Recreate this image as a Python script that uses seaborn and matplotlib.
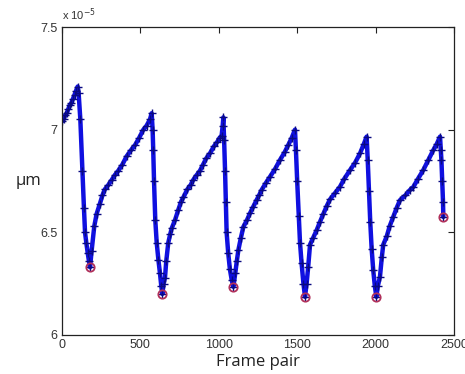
import numpy as np
import pandas as pd
import seaborn as sns
import matplotlib.pyplot as plt

# Displacement trace (values in units of 1e-5 um)
frames = [0, 10, 20, 30, 40, 50, 60, 70, 80, 90, 100,
          106, 117, 130, 140, 147, 155, 164, 172, 179,
          189, 206, 221, 242, 258, 274, 295, 317, 338, 359, 385, 412, 440,
          466, 492, 519, 540, 561, 572,
          578, 582, 587, 595, 604, 615, 625, 633, 640,
          648, 657, 665, 678, 690, 700, 721, 742, 760, 774, 800, 820, 837,
          860, 880, 900, 920, 944, 970, 990, 1005, 1018, 1025, 1029,
          1034, 1040, 1045, 1050, 1060, 1071, 1082, 1093,
          1105, 1115, 1125, 1140, 1157, 1180, 1199, 1220, 1241, 1257, 1273,
          1300, 1327, 1360, 1390, 1420, 1443, 1465, 1486,
          1492, 1500, 1510, 1518, 1528, 1540, 1550,
          1560, 1570, 1582, 1600, 1624, 1645, 1667, 1690, 1709, 1740, 1773,
          1800, 1837, 1870, 1901, 1925, 1943,
          1950, 1958, 1966, 1975, 1985, 1995, 2005,
          2015, 2028, 2040, 2049, 2071, 2090, 2113, 2135, 2156, 2190, 2219,
          2240, 2270, 2304, 2335, 2368, 2390, 2411,
          2416, 2420, 2425, 2430, 2432]
values = [7.04, 7.05, 7.07, 7.08, 7.10, 7.12, 7.13, 7.15, 7.17, 7.19, 7.21,
          7.18, 7.05, 6.80, 6.62, 6.50, 6.45, 6.40, 6.36, 6.33,
          6.41, 6.53, 6.59, 6.64, 6.68, 6.71, 6.73, 6.755, 6.78, 6.80, 6.83, 6.87, 6.90,
          6.925, 6.96, 7.00, 7.02, 7.05, 7.08,
          7.00, 6.90, 6.75, 6.56, 6.45, 6.365, 6.30, 6.24, 6.20,
          6.25, 6.28, 6.36, 6.45, 6.49, 6.52, 6.56, 6.61, 6.65, 6.67, 6.71, 6.73, 6.755,
          6.78, 6.80, 6.83, 6.86, 6.885, 6.92, 6.94, 6.96, 6.97, 7.02, 7.06,
          6.95, 6.80, 6.65, 6.50, 6.40, 6.32, 6.27, 6.235,
          6.30, 6.36, 6.414, 6.47, 6.527, 6.56, 6.593, 6.625, 6.657, 6.68, 6.706,
          6.74, 6.771, 6.81, 6.852, 6.89, 6.925, 6.96, 7.00,
          6.90, 6.75, 6.58, 6.45, 6.35, 6.25, 6.186,
          6.25, 6.33, 6.44, 6.47, 6.51, 6.55, 6.59, 6.63, 6.66, 6.69, 6.722,
          6.76, 6.803, 6.84, 6.885, 6.93, 6.966,
          6.85, 6.70, 6.55, 6.42, 6.316, 6.24, 6.186,
          6.24, 6.284, 6.38, 6.44, 6.48, 6.53, 6.576, 6.62, 6.657, 6.68, 6.706,
          6.72, 6.76, 6.803, 6.85, 6.90, 6.93, 6.966,
          6.90, 6.85, 6.75, 6.65, 6.575]

# Marked minima
min_frames = [179, 640, 1093, 1550, 2005, 2432]
min_values = [6.33, 6.20, 6.235, 6.186, 6.186, 6.575]

df = pd.DataFrame({"Frame pair": frames, "um": values})

sns.set_style("white")
plt.rcParams["font.family"] = ["Liberation Sans", "DejaVu Sans"]

fig = plt.figure(figsize=(4.65, 3.74), dpi=100)
ax = fig.add_axes([0.1333, 0.1043, 0.843, 0.8235])

sns.lineplot(data=df, x="Frame pair", y="um", ax=ax, sort=False, estimator=None,
             color="#1010e0", linewidth=3.2, marker="+", markersize=6,
             markeredgecolor="#0a0a80", markeredgewidth=1.0)
ax.plot(min_frames, min_values, "o", ms=6, mfc="none", mec="#b0305a", mew=1.3)

ax.set_xlim(0, 2500)
ax.set_ylim(6, 7.5)
ax.set_xticks([0, 500, 1000, 1500, 2000, 2500])
ax.set_yticks([6, 6.5, 7, 7.5])
ax.set_yticklabels(["6", "6.5", "7", "7.5"])
ax.tick_params(direction="in", length=4, width=0.8, top=True, right=True,
               labelsize=9, colors="#222222", labelcolor="#333333", pad=3)
for s in ax.spines.values():
    s.set_color("#222222")
    s.set_linewidth(0.9)

ax.set_xlabel("Frame pair", fontsize=12, family=["Open Sans", "DejaVu Sans"],
              color="#222222", labelpad=2)
ax.set_ylabel("\u00b5m", fontsize=12, family=["Open Sans", "DejaVu Sans"],
              color="#222222", rotation=0, labelpad=9, va="center")
ax.text(0.0, 1.012, r"x 10$^{-5}$", transform=ax.transAxes, fontsize=8,
        color="#333333", ha="left", va="bottom")

fig.savefig("out.png", dpi=100)
plt.close(fig)
